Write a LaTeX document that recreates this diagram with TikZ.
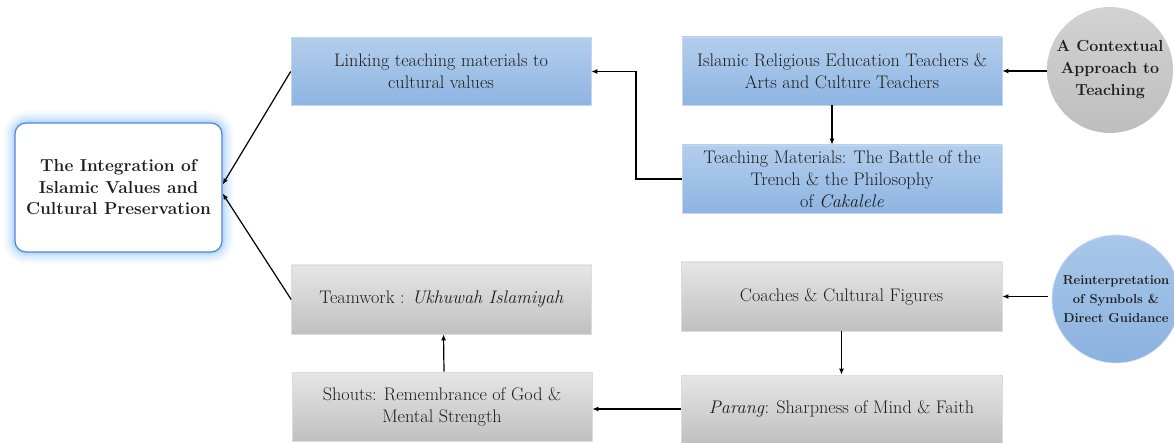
\documentclass[tikz,border=0pt]{standalone}
\usetikzlibrary{arrows.meta}
\definecolor{bluetop}{HTML}{B3CEEC}
\definecolor{bluebot}{HTML}{8EB4E2}
\definecolor{blueedge}{HTML}{C3D7EF}
\definecolor{graytop}{HTML}{E6E6E6}
\definecolor{graybot}{HTML}{C0C0C0}
\definecolor{grayedge}{HTML}{DCDCDC}
\definecolor{circgtop}{HTML}{D2D2D2}
\definecolor{circgbot}{HTML}{BEBEBE}
\definecolor{circbtop}{HTML}{A9C8EA}
\definecolor{circbbot}{HTML}{8AB2DF}
\definecolor{mainedge}{HTML}{4F86D4}
\definecolor{glow}{HTML}{9CCBF8}
\definecolor{txt}{HTML}{1E1E1E}
\tikzset{
  bluebox/.style={rectangle, draw=blueedge, line width=0.6pt, top color=bluetop, bottom color=bluebot, align=center, font=\fontsize{18.2}{22}\selectfont, text=txt, inner sep=0pt},
  graybox/.style={rectangle, draw=grayedge, line width=0.6pt, top color=graytop, bottom color=graybot, align=center, font=\fontsize{18.2}{22}\selectfont, text=txt, inner sep=0pt},
  mainbox/.style={rectangle, rounded corners=11pt, draw=mainedge, line width=1.2pt, fill=white, align=center, font=\bfseries\fontsize{17.3}{21.5}\selectfont, text=txt, minimum width=207pt, minimum height=129pt, inner sep=0pt},
  circg/.style={circle, top color=circgtop, bottom color=circgbot, draw=none, align=center, font=\bfseries\fontsize{16}{22}\selectfont, text=txt, inner sep=0pt},
  circb/.style={circle, top color=circbtop, bottom color=circbbot, draw=white!85!blue, line width=0.6pt, align=center, font=\bfseries\fontsize{13}{19}\selectfont, text=txt, inner sep=0pt},
  arr/.style={-{Latex[length=6pt,width=5pt]}, line width=1.2pt, black}
}
\begin{document}
\begin{tikzpicture}[x=1pt,y=-1pt]
\useasboundingbox (0,0) rectangle (1174,443);
% glow around main box
\foreach \w/\o in {24/0.08,19/0.12,14/0.17,9/0.25,5/0.4}{
  \draw[line width=\w pt, color=glow, opacity=\o, rounded corners=12pt] (15,123) rectangle (222,252);
}
\node[mainbox] (main) at (118.5,187.5) {The Integration of\\Islamic Values and\\Cultural Preservation};

\node[bluebox, minimum width=300pt, minimum height=68pt] (lk) at (441,71.5) {Linking teaching materials to\\cultural values};
\node[bluebox, minimum width=320pt, minimum height=68pt] (isl) at (842,71) {Islamic Religious Education Teachers \&\\Arts and Culture Teachers};
\node[bluebox, minimum width=320pt, minimum height=68pt] (tm) at (842,179) {Teaching Materials: The Battle of the\\Trench \& the Philosophy\\of \textit{Cakalele}};

\node[graybox, minimum width=300pt, minimum height=69pt] (tw) at (441.5,299.5) {Teamwork : \textit{Ukhuwah Islamiyah}};
\node[graybox, minimum width=300pt, minimum height=69pt] (sh) at (442,406.5) {Shouts: Remembrance of God \&\\Mental Strength};
\node[graybox, minimum width=321pt, minimum height=69pt] (co) at (841.5,296.5) {Coaches \& Cultural Figures};
\node[graybox, minimum width=321pt, minimum height=68pt] (pa) at (841.5,409) {\textit{Parang}: Sharpness of Mind \& Faith};

\node[circg, minimum size=126pt] (c1) at (1110,70) {A Contextual\\Approach to\\Teaching};
\node[circb, minimum size=128pt] (c2) at (1116,299) {Reinterpretation\\of Symbols \&\\Direct Guidance};

\coordinate (bend) at (636,71.5);

\draw[arr] (c1.west |- isl.east) -- (isl.east);
\draw[arr] ([xshift=-10pt]isl.south) -- ([xshift=-10pt]tm.north);
\draw[arr] (tm.west) -| (bend) -- (lk.east);
\draw[arr] (lk.west) -- ([yshift=3pt]main.east);
\draw[arr] (tw.west) -- ([yshift=-6pt]main.east);
\draw[arr] ([xshift=-4pt]c2.west |- co.east) -- (co.east);
\draw[arr] (co.south) -- (pa.north);
\draw[arr] (pa.west) -- (sh.east |- pa.west);
\draw[arr] ([xshift=2pt]sh.north) -- ([xshift=2pt]tw.south);
\end{tikzpicture}
\end{document}
